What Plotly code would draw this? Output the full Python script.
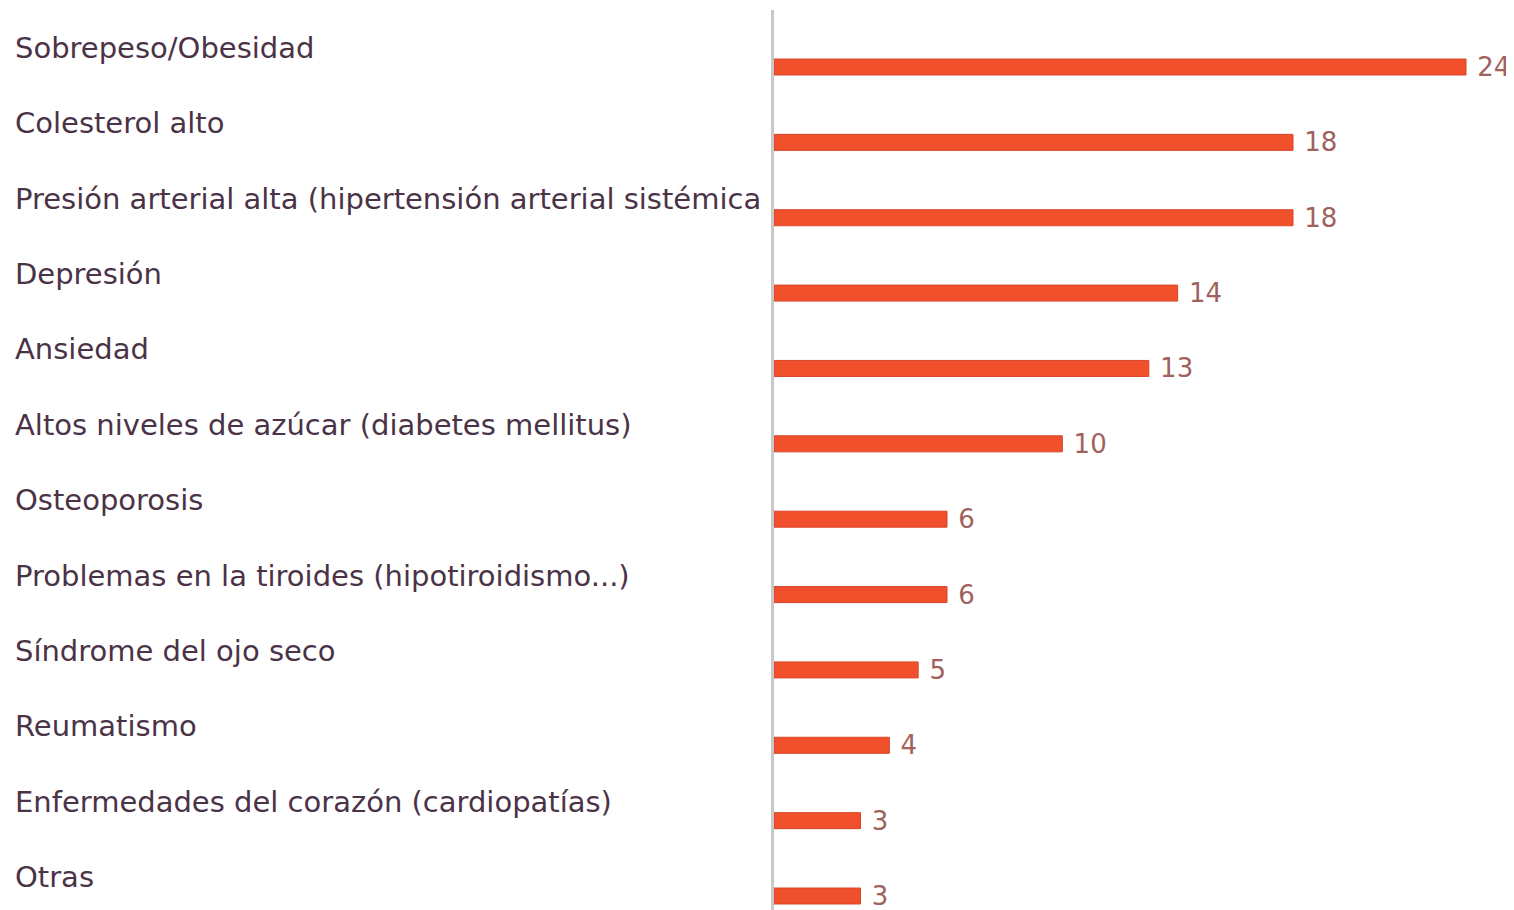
import plotly.graph_objects as go

categories = [
    "Sobrepeso/Obesidad",
    "Colesterol alto",
    "Presión arterial alta (hipertensión arterial sistémica",
    "Depresión",
    "Ansiedad",
    "Altos niveles de azúcar (diabetes mellitus)",
    "Osteoporosis",
    "Problemas en la tiroides (hipotiroidismo...)",
    "Síndrome del ojo seco",
    "Reumatismo",
    "Enfermedades del corazón (cardiopatías)",
    "Otras",
]
values = [24, 18, 18, 14, 13, 10, 6, 6, 5, 4, 3, 3]

W, H = 1514, 910
OFF = 8  # page body margin
positions = list(range(len(categories)))

axis_x = 774 - OFF
px_per_unit = (1466 - 774) / 24.0
xmax = (W - axis_x) / px_per_unit

top = 10 - OFF
bottom = 910 - OFF
step = (896 - 67) / 11.0
c0 = 67 - OFF
y_top = -(c0 - top) / step
y_bot = 11 + (bottom - (c0 + 11 * step)) / step

fig = go.Figure()
fig.add_trace(go.Bar(
    x=values,
    y=positions,
    orientation="h",
    width=16 / step,
    marker=dict(color="#F0502B", line=dict(color="#D8452A", width=1)),
    text=["\u00a0" + str(v) for v in values],
    textposition="outside",
    constraintext="none",
    cliponaxis=False,
    textfont=dict(family="DejaVu Sans", size=26, color="#A0625C"),
    hoverinfo="skip",
))

for i, c in enumerate(categories):
    fig.add_annotation(
        x=5 / W, xref="paper", xanchor="left",
        y=i, yref="y", yanchor="middle", yshift=19,
        text=c, showarrow=False,
        font=dict(family="DejaVu Sans", size=29, color="#4B3347"),
    )

fig.update_layout(
    width=W, height=H,
    margin=dict(l=0, r=0, t=top, b=H - bottom),
    plot_bgcolor="white", paper_bgcolor="white",
    showlegend=False,
    xaxis=dict(domain=[axis_x / W, 1], range=[0, xmax], visible=False, fixedrange=True),
    yaxis=dict(range=[y_bot, y_top], showline=True, linecolor="#C8C8C8", linewidth=3,
               showticklabels=False, showgrid=False, zeroline=False, ticks=""),
)

fig.write_html("out.html")
